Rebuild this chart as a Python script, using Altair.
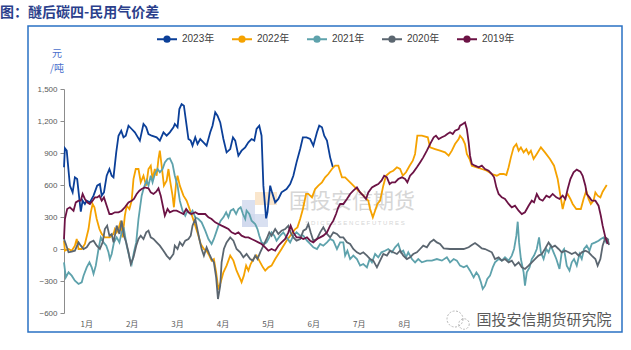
import altair as alt
import pandas as pd

# ---------------- data (x = month position, 0 = 1 Jan, 12 = 31 Dec; values in 元/吨) ----------------
years = ["2023年", "2022年", "2021年", "2020年", "2019年"]
colors = ["#0b3f98", "#f5a200", "#5ea2ac", "#5b6670", "#6c1345"]
months = ["1月", "2月", "3月", "4月", "5月", "6月", "7月", "8月"]
y_ticks = [-600, -300, 0, 300, 600, 900, 1200, 1500]

x_2023 = [0, 0.02, 0.06, 0.13, 0.19, 0.24, 0.29, 0.33, 0.37, 0.41, 0.46, 0.50, 0.57, 0.65, 0.73, 0.79, 0.83, 0.88, 0.94, 1.00,
          1.05, 1.09, 1.15, 1.20, 1.26, 1.31, 1.36, 1.42, 1.49, 1.56, 1.67, 1.75, 1.81, 1.86, 1.93, 2.04, 2.11, 2.19, 2.26, 2.33,
          2.41, 2.44, 2.50, 2.54, 2.59, 2.64, 2.69, 2.74, 2.79, 2.83, 2.89, 2.94, 3.00, 3.07, 3.14, 3.22, 3.27, 3.33, 3.38, 3.44,
          3.51, 3.58, 3.66, 3.72, 3.77, 3.84, 3.91, 3.99, 4.06, 4.13, 4.19, 4.24, 4.30, 4.35, 4.39, 4.45, 4.48, 4.54, 4.58, 4.65,
          4.72, 4.79, 4.90, 4.98, 5.05, 5.12, 5.20, 5.26, 5.34, 5.42, 5.49, 5.57, 5.62, 5.68, 5.73, 5.79, 5.86, 5.92]
v_2023 = [766, 944, 922, 594, 531, 672, 656, 500, 350, 453, 422, 453, 437, 500, 594, 609, 500, 531, 687, 750,
          687, 672, 906, 1062, 1109, 1047, 1062, 1156, 1125, 1094, 1016, 1172, 1141, 1078, 1062, 1047, 1016, 1094, 1062, 1094,
          1141, 1172, 1141, 1312, 1359, 1344, 1187, 1031, 1016, 969, 1047, 984, 1031, 1000, 969, 1094, 1156, 1281, 1250, 1187,
          1031, 906, 937, 1047, 1016, 875, 922, 953, 1000, 1031, 1016, 1125, 1156, 1062, 594, 287, 344, 594, 531, 437,
          469, 531, 562, 609, 687, 812, 937, 1047, 1047, 1031, 969, 1094, 1156, 1141, 1062, 1016, 859, 766]

x_2022 = [0.00, 0.02, 0.10, 0.17, 0.24, 0.28, 0.32, 0.39, 0.46, 0.54, 0.59, 0.63, 0.67, 0.72, 0.78, 0.83, 0.90, 1.01, 1.09, 1.12,
          1.16, 1.20, 1.25, 1.29, 1.34, 1.38, 1.44, 1.49, 1.53, 1.58, 1.64, 1.69, 1.75, 1.81, 1.86, 1.91, 1.95, 2.00, 2.04, 2.08,
          2.11, 2.15, 2.20, 2.26, 2.30, 2.33, 2.39, 2.42, 2.47, 2.50, 2.55, 2.63, 2.70, 2.78, 2.83, 2.89, 2.96, 3.01, 3.08, 3.14,
          3.20, 3.25, 3.30, 3.35, 3.40, 3.45, 3.51, 3.58, 3.66, 3.73, 3.80, 3.88, 3.91, 3.96, 4.01, 4.06, 4.11, 4.17, 4.24, 4.32,
          4.38, 4.43, 4.50, 4.57, 4.65, 4.72, 4.79, 4.90, 5.01, 5.09, 5.14, 5.20, 5.26, 5.33, 5.38, 5.46, 5.53, 5.60, 5.68, 5.75,
          5.82, 5.90, 5.97,
          6.04, 6.12, 6.19, 6.30, 6.41, 6.52, 6.63, 6.70, 6.74, 6.80, 6.85, 6.90, 6.96, 7.03, 7.09, 7.18, 7.25, 7.33, 7.40, 7.46,
          7.53, 7.61, 7.68, 7.73, 7.78, 7.88, 8.01, 8.06, 8.17, 8.28, 8.39, 8.47, 8.54, 8.61, 8.69, 8.72, 8.78, 8.83, 8.87, 8.93,
          8.98, 9.09, 9.20, 9.31, 9.42, 9.53, 9.60, 9.68, 9.74, 9.79, 9.84, 9.90, 9.96, 10.01, 10.06, 10.12, 10.18, 10.23, 10.28, 10.34,
          10.41, 10.50, 10.59, 10.70, 10.79, 10.87, 10.93, 10.98, 11.04, 11.09, 11.15, 11.20, 11.28, 11.38, 11.44, 11.50, 11.55, 11.60,
          11.66, 11.70, 11.75, 11.81, 11.86, 11.95]
v_2022 = [78, -16, 0, -16, 31, 94, 0, 0, 47, 187, 344, 422, 391, 281, 187, 141, 109, 109, 141, 187,
          156, 187, 266, 109, 312, 406, 375, 453, 656, 750, 750, 625, 687, 594, 750, 781, 656, 750, 687, 844,
          922, 781, 594, 641, 750, 656, 500, 391, 625, 687, 594, 500, 453, 359, 297, 219, 125, 47, 0, -16,
          -62, -109, -94, -219, -381, -312, -219, -156, -62, -109, -203, -281, -312, -250, -156, -203, -141, -94, -62, -125,
          -172, -203, -172, -156, -94, -47, 0, 78, 141, 187, 203, 281, 375, 516, 516, 484, 562, 594, 625, 672,
          703, 750, 781,
          781, 672, 672, 625, 578, 531, 484, 453, 375, 297, 359, 422, 453, 594, 687, 719, 734, 766, 750, 687,
          719, 781, 828, 891, 1062, 1062, 1047, 953, 937, 922, 906, 875, 922, 984, 1031, 1062, 1031, 984, 891, 844,
          781, 766, 750, 734, 703, 687, 703, 703, 694, 766, 859, 953, 984, 922, 953, 906, 937, 891, 922, 844,
          891, 953, 906, 844, 781, 656, 500, 375, 484, 516, 469, 422, 375, 375, 469, 547, 469, 422,
          453, 531, 500, 484, 537, 600]

x_2021 = [0.00, 0.04, 0.10, 0.17, 0.24, 0.32, 0.39, 0.43, 0.50, 0.56, 0.61, 0.65, 0.70, 0.76, 0.81, 0.87, 0.93, 0.98, 1.01, 1.05,
          1.10, 1.16, 1.22, 1.27, 1.32, 1.38, 1.45, 1.49, 1.54, 1.59, 1.64, 1.67, 1.71, 1.76, 1.82, 1.86, 1.91, 1.95, 2.00, 2.06,
          2.11, 2.17, 2.22, 2.28, 2.33, 2.39, 2.44, 2.50, 2.55, 2.61, 2.67, 2.72, 2.78, 2.83, 2.89, 2.96, 3.03, 3.11, 3.18, 3.25,
          3.30, 3.35, 3.40, 3.45, 3.51, 3.57, 3.62, 3.67, 3.73, 3.79, 3.84, 3.89, 3.94, 3.99, 4.02, 4.08, 4.13, 4.21, 4.26, 4.30,
          4.35, 4.41, 4.46, 4.52, 4.57, 4.63, 4.68, 4.76, 4.83, 4.90, 4.98, 5.05, 5.12, 5.20, 5.27, 5.35, 5.42, 5.49, 5.57, 5.64,
          5.71, 5.79, 5.86, 5.93, 6.01, 6.08,
          6.15, 6.19, 6.24, 6.30, 6.37, 6.45, 6.52, 6.59, 6.67, 6.73, 6.78, 6.85, 6.92, 6.99, 7.07, 7.14, 7.22, 7.29, 7.36, 7.42,
          7.47, 7.53, 7.58, 7.66, 7.73, 7.80, 7.88, 7.99, 8.10, 8.21, 8.32, 8.43, 8.50, 8.58, 8.65, 8.72, 8.80, 8.87, 8.94, 9.02,
          9.08, 9.13, 9.18, 9.22, 9.27, 9.32, 9.38, 9.44, 9.49, 9.57, 9.64, 9.71, 9.79, 9.86, 9.91, 9.96, 9.99, 10.02, 10.06, 10.12,
          10.15, 10.19, 10.25, 10.30, 10.35, 10.41, 10.46, 10.50, 10.56, 10.62, 10.67, 10.72, 10.78, 10.84, 10.91, 10.96, 11.01, 11.07,
          11.13, 11.18, 11.23, 11.29, 11.35, 11.40, 11.45, 11.51, 11.57, 11.62, 11.70, 11.77, 11.82, 11.88, 11.94, 11.99]
v_2021 = [-125, -266, -219, -250, -297, -328, -312, -250, -172, -125, -172, -234, -156, 0, 109, 62, 31, -31, -94, -47,
          62, 109, 62, 156, 187, 31, -94, -141, -31, 62, 281, 375, 500, 578, 641, 594, 687, 625, 703, 750,
          719, 750, 812, 844, 850, 797, 687, 594, 453, 359, 312, 359, 328, 359, 297, 281, 250, 172, 94, 47,
          94, 156, 219, 266, 297, 344, 297, 359, 375, 328, 375, 391, 328, 281, 359, 328, 266, 234, 187, 125,
          62, 47, 62, 109, 156, 125, 78, 125, 156, 109, 62, 125, 156, 125, 125, 78, 47, 16, 0, 47,
          31, 62, 94, 78, 0, 62,
          62, -62, -16, -94, -62, -94, -156, -141, -172, -94, -125, -47, -78, -31, -16, 0, -31, 16, 47, -31,
          -16, -78, -31, -94, -125, -94, -125, -109, -109, -94, -109, -78, -125, -94, -109, -156, -172, -156, -203, -266,
          -219, -250, -312, -375, -344, -281, -250, -172, -125, -94, -109, -78, -109, -62, 0, 125, 256, 62, -94, -219,
          -344, -219, -172, -94, -62, 0, 109, -31, -94, 0, -31, 31, -31, -94, -187, -31, 0, -156,
          -203, -125, -94, -156, -47, -94, 0, 31, -16, 47, 62, 78, 94, 109, 62, 94]

x_2020 = [0.00, 0.04, 0.10, 0.17, 0.24, 0.32, 0.37, 0.43, 0.50, 0.57, 0.65, 0.72, 0.79, 0.85, 0.90, 0.95, 1.00, 1.05, 1.09, 1.12,
          1.16, 1.22, 1.27, 1.32, 1.37, 1.42, 1.47, 1.53, 1.59, 1.64, 1.69, 1.75, 1.81, 1.86, 1.91, 1.97, 2.04, 2.11, 2.19, 2.26,
          2.33, 2.41, 2.44, 2.50, 2.55, 2.61, 2.67, 2.74, 2.79, 2.83, 2.89, 2.92, 2.98, 3.03, 3.08, 3.14, 3.20, 3.25, 3.30, 3.35,
          3.39, 3.44, 3.47, 3.52, 3.58, 3.66, 3.73, 3.80, 3.88, 3.95, 4.02, 4.10, 4.16, 4.21, 4.26, 4.32, 4.39, 4.46, 4.52, 4.57,
          4.65, 4.72, 4.79, 4.87, 4.94, 4.99, 5.05, 5.12, 5.20, 5.27, 5.33, 5.38, 5.43, 5.49, 5.57, 5.64, 5.71, 5.79, 5.86, 5.93,
          6.01, 6.08,
          6.15, 6.23, 6.30, 6.37, 6.45, 6.52, 6.59, 6.67, 6.74, 6.81, 6.89, 6.96, 7.03, 7.11, 7.18, 7.25, 7.33, 7.40, 7.47, 7.55,
          7.62, 7.69, 7.77, 7.84, 7.91, 7.99, 8.06, 8.14, 8.21, 8.28, 8.36, 8.50, 8.65, 8.80, 8.91, 8.98, 9.05, 9.13, 9.20, 9.27,
          9.35, 9.42, 9.49, 9.57, 9.64, 9.71, 9.79, 9.86, 9.93, 10.01, 10.08, 10.15, 10.23, 10.30, 10.37, 10.45, 10.52, 10.59, 10.67, 10.74,
          10.81, 10.89, 10.96, 11.04, 11.11, 11.18, 11.26, 11.33, 11.40, 11.48, 11.55, 11.62, 11.70, 11.75, 11.81, 11.86, 11.92, 11.97, 12.0]
v_2020 = [94, 47, -31, -25, -16, 62, 31, 0, 16, 62, 78, 31, 0, 62, 187, 219, 125, 141, 62, 125,
          219, 141, 266, 125, 62, -31, -141, -78, 31, 94, 125, 94, 156, 172, 109, 94, 62, 31, -16, -62,
          -94, -47, 31, 0, 62, 31, 78, 94, 125, 219, 281, 219, 94, 0, -62, 16, -47, -94, -125, -266,
          -469, -344, -125, 0, 62, 109, 78, 0, -31, -78, -47, -94, -109, -62, -94, -31, 31, 94, 156, 125,
          187, 141, 172, 187, 219, 156, 109, 78, 94, 172, 187, 234, 156, 78, 94, 156, 203, 141, 109, 156,
          141, 109,
          109, 62, 47, 0, -31, -47, -31, -62, -94, -109, -172, -109, -47, -62, -16, -31, -47, -16, -62, -94,
          -78, -47, -31, 0, 31, 16, 62, 87, 62, 47, 6, 0, 0, 0, 16, 37, 56, 31, 6, 0,
          -16, -31, -94, -78, -109, -94, -125, -109, -156, -125, -172, -187, -156, -125, -94, -62, -47, 0, 62, 16,
          31, 0, -31, -16, -31, -47, -31, -62, -31, -16, -31, -62, -94, -156, -94, 31, 109, 94, 37]

x_2019 = [0.00, 0.02, 0.07, 0.13, 0.21, 0.26, 0.32, 0.37, 0.41, 0.46, 0.51, 0.57, 0.63, 0.68, 0.73, 0.78, 0.83, 0.88, 0.94, 1.00,
          1.05, 1.12, 1.20, 1.27, 1.34, 1.42, 1.49, 1.54, 1.60, 1.66, 1.71, 1.78, 1.86, 1.91, 1.97, 2.03, 2.08, 2.13, 2.19, 2.22,
          2.28, 2.33, 2.41, 2.48, 2.55, 2.63, 2.69, 2.74, 2.81, 2.89, 2.96, 3.03, 3.11, 3.18, 3.25, 3.33, 3.40, 3.47, 3.55, 3.62,
          3.69, 3.77, 3.84, 3.91, 3.99, 4.06, 4.13, 4.21, 4.28, 4.35, 4.43, 4.50, 4.57, 4.65, 4.72, 4.79, 4.87, 4.94, 4.99, 5.05,
          5.12, 5.20, 5.27, 5.35, 5.42, 5.49, 5.57, 5.64, 5.71, 5.79, 5.86, 5.93, 5.99, 6.04,
          6.08, 6.15, 6.23, 6.30, 6.37, 6.45, 6.52, 6.59, 6.65, 6.70, 6.78, 6.85, 6.92, 6.99, 7.05, 7.11, 7.17, 7.22, 7.29, 7.36,
          7.44, 7.51, 7.56, 7.62, 7.69, 7.77, 7.84, 7.91, 7.99, 8.06, 8.14, 8.19, 8.25, 8.32, 8.39, 8.44, 8.50, 8.56, 8.61, 8.69,
          8.72, 8.78, 8.83, 8.87, 8.91, 8.94, 8.98, 9.05, 9.13, 9.20, 9.27, 9.35, 9.42, 9.47, 9.52, 9.57, 9.64, 9.71, 9.79, 9.86,
          9.93, 10.01, 10.08, 10.15, 10.23, 10.30, 10.35, 10.41, 10.47, 10.54, 10.62, 10.69, 10.76, 10.84, 10.91, 10.98, 11.04, 11.09,
          11.15, 11.22, 11.29, 11.37, 11.42, 11.48, 11.51, 11.57, 11.62, 11.70, 11.77, 11.82, 11.86, 11.92, 11.97]
v_2019 = [94, 281, 375, 391, 359, 437, 453, 453, 516, 469, 437, 422, 453, 484, 484, 500, 453, 484, 406, 328,
          328, 344, 344, 359, 391, 437, 453, 469, 516, 547, 562, 578, 569, 531, 516, 537, 569, 500, 375, 312,
          375, 344, 359, 359, 344, 328, 375, 344, 328, 344, 328, 328, 328, 297, 281, 250, 234, 219, 203, 187,
          156, 141, 156, 125, 109, 109, 94, 78, 62, 47, 16, -16, 0, -16, 31, 62, 94, 156, 219, 156,
          109, 109, 94, 109, 78, 62, 94, 109, 125, 156, 219, 266, 328, 391,
          422, 422, 469, 516, 547, 578, 531, 500, 469, 531, 578, 594, 609, 641, 687, 672, 609, 625, 625, 656,
          672, 656, 625, 687, 719, 766, 812, 859, 922, 984, 1047, 1062, 1031, 1047, 1062, 1078, 1094, 1078, 1109, 1125,
          1156, 1172, 1187, 1125, 1000, 875, 797, 781, 766, 781, 750, 734, 703, 672, 578, 516, 484, 469, 422, 391,
          406, 359, 328, 344, 406, 453, 437, 516, 469, 453, 500, 484, 516, 484, 469, 500, 469, 562,
          656, 719, 744, 725, 687, 594, 516, 484, 453, 453, 406, 312, 219, 109, 47]

series = {
    "2023年": (x_2023, v_2023),
    "2022年": (x_2022, v_2022),
    "2021年": (x_2021, v_2021),
    "2020年": (x_2020, v_2020),
    "2019年": (x_2019, v_2019),
}

rows = []
for yr in years:
    xs_, vs_ = series[yr]
    for a, b in zip(xs_, vs_):
        rows.append({"年份": yr, "月": a, "价差": b})
df = pd.DataFrame(rows)

# ---------------- layout ----------------
W, H = 545, 224
LEFT, TOP = 64, 89
RIGHT, BOTTOM = 631 - LEFT - W, 350 - TOP - H

x_scale = alt.Scale(domain=[0, 12], nice=False, zero=False)
y_scale = alt.Scale(domain=[-600, 1500], nice=False, zero=False)

AXIS_GREY = "#8c8c8c"
LABEL_GREY = "#595959"

LEG_PATH = ("M-1,0L1,0"
            "M-0.26,0A0.26,0.26,0,1,1,0.26,0A0.26,0.26,0,1,1,-0.26,0"
            "M-0.1,0A0.1,0.1,0,1,1,0.1,0A0.1,0.1,0,1,1,-0.1,0")

one = pd.DataFrame({"k": [0]})


def txt(s, x, y, **kw):
    return alt.Chart(pd.DataFrame({"t": [s]})).mark_text(**kw).encode(
        text="t:N", x=alt.value(x), y=alt.value(y))


frame = alt.Chart(one).mark_rect(fill="transparent", stroke="#2a72c4", strokeWidth=1.5).encode(
    x=alt.value(28 - LEFT), x2=alt.value(622 - LEFT),
    y=alt.value(26 - TOP), y2=alt.value(332 - TOP))

# faint centre watermark (logo blocks + text)
logo1 = alt.Chart(one).mark_rect(fill="#cfd8ee", opacity=0.8).encode(
    x=alt.value(242 - LEFT), x2=alt.value(255 - LEFT), y=alt.value(200 - TOP), y2=alt.value(227 - TOP))
logo2 = alt.Chart(one).mark_rect(fill="#cfd8ee", opacity=0.8).encode(
    x=alt.value(242 - LEFT), x2=alt.value(268 - LEFT), y=alt.value(214 - TOP), y2=alt.value(227 - TOP))
logo3 = alt.Chart(one).mark_rect(fill="#f9e3c6", opacity=0.9).encode(
    x=alt.value(255 - LEFT), x2=alt.value(277 - LEFT), y=alt.value(192 - TOP), y2=alt.value(205 - TOP))
wm1 = txt("国投安信期货", 352 - LEFT, 202 - TOP, font="Noto Sans CJK SC", fontSize=21,
          color="#d6d6d6", align="center", baseline="middle")
wm2 = txt("S D I C   E S S E N C E   F U T U R E S", 355 - LEFT, 223 - TOP, font="Liberation Sans",
          fontSize=6, color="#d6d6d6", align="center", baseline="middle")

lines = alt.Chart(df).mark_line(strokeWidth=1.8).encode(
    x=alt.X("月:Q", scale=x_scale,
            axis=alt.Axis(values=list(range(13)), labels=False, ticks=True, tickSize=4,
                          tickColor=AXIS_GREY, domainColor=AXIS_GREY, grid=False, title=None)),
    y=alt.Y("价差:Q", scale=y_scale,
            axis=alt.Axis(values=y_ticks, format=",.0f", labelFontSize=8, labelColor=LABEL_GREY,
                          labelFont="Liberation Sans", tickSize=4, tickColor=AXIS_GREY,
                          domainColor=AXIS_GREY, grid=False, title=None, labelPadding=3)),
    color=alt.Color("年份:N", scale=alt.Scale(domain=years, range=colors),
                    legend=alt.Legend(title=None, orient="none", legendX=92, legendY=-61,
                                      direction="horizontal", symbolType=LEG_PATH, symbolSize=400,
                                      symbolStrokeWidth=2, symbolFillColor="transparent",
                                      labelFont="Liberation Sans, Noto Sans CJK SC", labelFontSize=10,
                                      labelColor="#404040", labelOffset=4, columnPadding=13, padding=0)),
)

month_df = pd.DataFrame({"m": [i + 0.5 for i in range(len(months))], "label": months})
mlab = alt.Chart(month_df).mark_text(fontSize=8, color=LABEL_GREY, font="Noto Sans CJK SC",
                                     baseline="middle").encode(
    x=alt.X("m:Q", scale=x_scale, axis=None), y=alt.value(H + 12), text="label:N")

title = txt("图：醚后碳四-民用气价差", -LEFT, 13 - TOP, font="Noto Sans CJK SC", fontSize=14,
            fontWeight="bold", color="#2b3f8c", align="left", baseline="middle")
unit1 = txt("元", 57 - LEFT, 54 - TOP, font="Noto Sans CJK SC", fontSize=10, color="#4a6fcc",
            align="center", baseline="middle")
unit2 = txt("/吨", 57 - LEFT, 69 - TOP, font="Noto Sans CJK SC", fontSize=10, color="#4a6fcc",
            align="center", baseline="middle")

icon_df = pd.DataFrame({"k": [0]})
icon1 = alt.Chart(icon_df).mark_point(shape="circle", size=256, filled=False, stroke="#9a9a9a",
                                      strokeWidth=1, strokeDash=[2, 1.5]).encode(
    x=alt.value(455 - LEFT), y=alt.value(319 - TOP))
icon2 = alt.Chart(icon_df).mark_point(shape="circle", size=110, filled=False, stroke="#9a9a9a",
                                      strokeWidth=1, strokeDash=[2, 1.5]).encode(
    x=alt.value(464 - LEFT), y=alt.value(324 - TOP))
wm3 = txt("国投安信期货研究院", 544 - LEFT, 320 - TOP, font="Noto Sans CJK SC", fontSize=15,
          color="#5a5a5a", align="center", baseline="middle")

chart = alt.layer(
    frame, logo1, logo2, logo3, wm1, wm2, lines, mlab, title, unit1, unit2, icon1, icon2, wm3
).properties(
    width=W, height=H,
    autosize=alt.AutoSizeParams(type="none"),
    padding={"left": LEFT, "top": TOP, "right": RIGHT, "bottom": BOTTOM},
    background="white",
).configure_view(strokeOpacity=0)

chart.save("out.html", embed_options={"renderer": "svg", "actions": False})
